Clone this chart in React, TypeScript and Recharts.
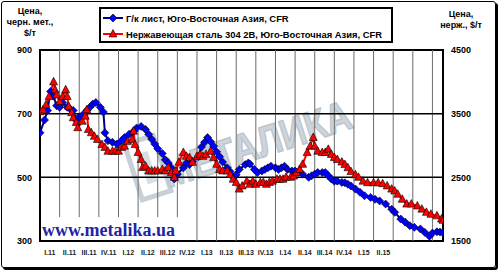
import { LineChart, Line, XAxis, YAxis, ReferenceLine, ReferenceArea } from 'recharts';

// quarters on the time axis, weeks counted from the start of 2011
const quarterLabels = [
  'I.11', 'II.11', 'III.11', 'IV.11', 'I.12', 'II.12', 'III.12', 'IV.12', 'I.13',
  'II.13', 'III.13', 'IV.13', 'I.14', 'II.14', 'III.14', 'IV.14', 'I.15', 'II.15'
];

// Г/к лист, Юго-Восточная Азия, CFR — [week, $/t]
const hrcSea: [number, number][] = [
  [0, 640], [3, 680], [5, 710], [7, 770], [9, 755], [11, 725], [13, 720], [15, 735], [18, 720],
  [20, 715], [22, 710], [24, 680], [26, 690], [28, 695], [31, 710], [33, 720], [35, 730], [37, 735],
  [40, 720], [42, 705], [43, 640], [45, 615], [48, 610], [51, 605], [54, 615], [56, 625], [59, 635],
  [62, 645], [64, 655], [67, 660], [70, 650], [72, 635], [74, 620], [76, 605], [78, 590], [81, 575],
  [83, 555], [85, 545], [87, 530], [89, 495], [91, 510], [95, 530], [97, 545], [99, 540], [101, 550],
  [105, 565], [107, 595], [109, 610], [111, 625], [113, 612], [115, 598], [117, 580], [119, 565],
  [121, 548], [124, 530], [126, 518], [128, 500], [130, 508], [132, 525], [136, 540], [138, 545],
  [139, 542], [142, 525], [144, 515], [147, 520], [149, 525], [151, 530], [153, 535], [156, 530],
  [158, 525], [160, 530], [162, 535], [164, 525], [167, 520], [169, 520], [171, 515], [174, 510],
  [178, 500], [180, 505], [182, 510], [184, 515], [187, 515], [189, 515], [191, 505], [193, 495],
  [195, 488], [197, 488], [200, 484], [202, 483], [204, 478], [206, 473], [209, 463], [212, 453],
  [215, 442], [219, 437], [222, 431], [225, 426], [229, 416], [233, 400], [235, 390], [239, 369],
  [242, 359], [245, 348], [248, 343], [252, 338], [255, 327], [258, 315], [260, 325], [263, 329],
  [265, 328], [267, 326]
];

// Нержавеющая сталь 304 2B, Юго-Восточная Азия, CFR — [week, $/t]
const ss304Sea: [number, number][] = [
  [0, 3530], [2, 3560], [4, 3640], [6, 3770], [9, 4000], [10, 3875], [11, 3795], [13, 3690],
  [15, 3770], [17, 3875], [18, 3770], [19, 3615], [21, 3515], [22, 3435], [24, 3360], [25, 3280],
  [28, 3380], [30, 3460], [31, 3560], [32, 3250], [34, 3200], [36, 3145], [38, 3095], [41, 3015],
  [43, 2970], [45, 2910], [48, 2910], [50, 2910], [52, 2910], [54, 2970], [56, 2990], [58, 3065],
  [61, 3095], [62, 3225], [63, 3015], [65, 2890], [67, 2780], [68, 2655], [70, 2675], [72, 2600],
  [74, 2600], [76, 2600], [78, 2600], [81, 2625], [83, 2600], [85, 2655], [87, 2575], [89, 2500],
  [90, 2600], [92, 2735], [95, 2890], [97, 2830], [99, 2810], [101, 2735], [104, 2830], [106, 2860],
  [108, 2830], [110, 2860], [113, 2910], [115, 2810], [117, 2705], [119, 2625], [121, 2600],
  [124, 2600], [126, 2545], [128, 2470], [130, 2420], [132, 2315], [134, 2365], [137, 2440],
  [139, 2390], [141, 2440], [143, 2390], [146, 2420], [148, 2420], [150, 2390], [152, 2420],
  [154, 2440], [157, 2470], [159, 2470], [161, 2470], [163, 2500], [166, 2500], [168, 2520],
  [170, 2575], [172, 2625], [174, 2705], [177, 2890], [179, 2990], [181, 3125], [182, 2990],
  [184, 2910], [187, 2890], [189, 2890], [191, 2940], [193, 2860], [195, 2810], [197, 2780],
  [200, 2740], [202, 2700], [204, 2650], [206, 2590], [209, 2540], [211, 2500], [214, 2440],
  [217, 2415], [221, 2415], [224, 2415], [227, 2400], [230, 2365], [233, 2315], [235, 2285],
  [237, 2235], [240, 2155], [243, 2080], [246, 2080], [250, 2050], [253, 2000], [256, 1950],
  [259, 1920], [263, 1895], [266, 1845], [267, 1825]
];

const leftTicks = [300, 500, 700, 900];
const rightTicks = [1500, 2500, 3500, 4500];

const hrcData = hrcSea.map(([w, p]) => ({ w, p }));
const ssData = ss304Sea.map(([w, p]) => ({ w, p }));
const quarterCenters = quarterLabels.map((_, i) => 6.5 + 13 * i);
const quarterEdges = Array.from({ length: 20 }, (_, i) => 13 * (i + 1));

const FONT = 'Arial, "Liberation Sans", sans-serif';
const BLUE = '#0000ff';
const NAVY = '#000080';
const RED = '#ff0000';

const diamondDot = (props: any) => {
  const { cx, cy, index } = props;
  if (cx == null || cy == null) return <g key={`d${index}`} />;
  return (
    <polygon
      key={`d${index}`}
      points={`${cx},${cy - 4} ${cx + 4},${cy} ${cx},${cy + 4} ${cx - 4},${cy}`}
      fill={BLUE}
      stroke="#000"
      strokeWidth={0.6}
    />
  );
};

const triangleDot = (props: any) => {
  const { cx, cy, index } = props;
  if (cx == null || cy == null) return <g key={`t${index}`} />;
  return (
    <polygon
      key={`t${index}`}
      points={`${cx},${cy - 4.5} ${cx + 4},${cy + 3} ${cx - 4},${cy + 3}`}
      fill={RED}
      stroke="#000"
      strokeWidth={0.6}
    />
  );
};

const LegendRow = ({ color, lineColor, marker, text }: any) => (
  <div style={{ display: 'flex', alignItems: 'center', height: 16, whiteSpace: 'nowrap' }}>
    <svg width={20} height={12} style={{ marginLeft: 2, marginRight: 3, flexShrink: 0 }}>
      <line x1={0} y1={6} x2={20} y2={6} stroke={lineColor} strokeWidth={2} />
      {marker === 'diamond' ? (
        <polygon points="10,2 14,6 10,10 6,6" fill={color} stroke="#000" strokeWidth={0.6} />
      ) : (
        <polygon points="10,1.5 14,9 6,9" fill={color} stroke="#000" strokeWidth={0.6} />
      )}
    </svg>
    <span>{text}</span>
  </div>
);

const Watermark = () => (
  <svg width={500} height={272} style={{ position: 'absolute', left: 0, top: 0 }}>
    <g transform="rotate(-18 160 170)">
      <rect x={134} y={135} width={30} height={58} fill="none" stroke="#c8d0d7" strokeWidth={5} />
      <rect x={144} y={148} width={10} height={32} fill="#d8dee3" />
    </g>
    <text
      x={168}
      y={188}
      transform="rotate(-18 168 188)"
      fontFamily={FONT}
      fontWeight="bold"
      fontSize={42}
      textLength={196}
      lengthAdjust="spacingAndGlyphs"
      fill="#cdd4da"
      stroke="#bcc5cd"
      strokeWidth={1.5}
    >
      МЕТАЛИКА
    </text>
  </svg>
);

export default function App() {
  return (
    <div style={{ position: 'absolute', left: 0, top: 0, width: 500, height: 272, background: '#fff', fontFamily: FONT }}>
      <div
        style={{
          position: 'absolute', left: 1, top: 1, width: 495, height: 267, boxSizing: 'border-box',
          border: '1.5px solid #000', borderRadius: 3, boxShadow: '2px 2px 0 #000'
        }}
      />
      <Watermark />
      <div style={{ position: 'absolute', left: 0, top: 0 }}>
        <LineChart width={500} height={272} margin={{ top: 50, right: 0, bottom: 0, left: 0 }}>
          <XAxis
            dataKey="w"
            type="number"
            domain={[0, 267]}
            ticks={quarterCenters}
            interval={0}
            tickFormatter={(_v: number, i: number) => quarterLabels[i]}
            tick={{ fontSize: 7, fontWeight: 'bold', fill: '#222' }}
            tickLine={false}
            tickSize={0}
            tickMargin={9}
            axisLine={false}
            height={31}
            allowDataOverflow
          />
          <YAxis
            yAxisId="left"
            domain={[300, 900]}
            ticks={leftTicks}
            width={40}
            tick={{ fontSize: 9, fontWeight: 'bold', fill: '#000' }}
            tickLine={false}
            tickSize={0}
            tickMargin={8}
            axisLine={false}
          />
          <YAxis
            yAxisId="right"
            orientation="right"
            domain={[1500, 4500]}
            ticks={rightTicks}
            width={57}
            tick={{ fontSize: 9, fontWeight: 'bold', fill: '#000', textAnchor: 'start' }}
            tickLine={false}
            tickSize={0}
            tickMargin={8}
            axisLine={false}
          />
          {quarterEdges.map((q) => (
            <ReferenceLine
              key={`v${q}`}
              yAxisId="left"
              segment={[{ x: q, y: q < 92 ? 375 : 300 }, { x: q, y: 900 }]}
              stroke="#6a6a6a"
              strokeWidth={1}
            />
          ))}
          <ReferenceLine yAxisId="left" y={500} stroke="#000" strokeWidth={1.5} />
          <ReferenceLine yAxisId="left" y={700} stroke="#000" strokeWidth={1.5} />
          <ReferenceArea yAxisId="left" x1={0} x2={267} y1={300} y2={900} fill="none" stroke="#000" strokeWidth={2} />
          <Line
            yAxisId="left"
            data={hrcData}
            dataKey="p"
            stroke={NAVY}
            strokeWidth={2}
            dot={diamondDot}
            activeDot={false}
            isAnimationActive={false}
          />
          <Line
            yAxisId="right"
            data={ssData}
            dataKey="p"
            stroke={RED}
            strokeWidth={2}
            dot={triangleDot}
            activeDot={false}
            isAnimationActive={false}
          />
        </LineChart>
      </div>
      <div style={{ position: 'absolute', left: 0, top: 6, width: 60, textAlign: 'center', fontSize: 9, fontWeight: 'bold', lineHeight: '11px' }}>
        Цена,<br />черн. мет.,<br />$/т
      </div>
      <div style={{ position: 'absolute', left: 435, top: 9, width: 52, textAlign: 'center', fontSize: 9, fontWeight: 'bold', lineHeight: '11px' }}>
        Цена,<br />нерж., $/т
      </div>
      <div
        style={{
          position: 'absolute', left: 99, top: 7, width: 294, height: 36, boxSizing: 'border-box',
          border: '2px solid #000', background: '#fff', fontSize: 9.4, fontWeight: 'bold', paddingTop: 1
        }}
      >
        <LegendRow color={BLUE} lineColor={NAVY} marker="diamond" text="Г/к лист, Юго-Восточная Азия, CFR" />
        <LegendRow color={RED} lineColor={RED} marker="triangle" text="Нержавеющая сталь 304 2B, Юго-Восточная Азия, CFR" />
      </div>
      <div
        style={{
          position: 'absolute', left: 42, top: 221, fontFamily: '"Liberation Serif", "Times New Roman", serif',
          fontWeight: 'bold', fontSize: 18, lineHeight: '18px', color: '#2323a3'
        }}
      >
        www.metalika.ua
      </div>
    </div>
  );
}
